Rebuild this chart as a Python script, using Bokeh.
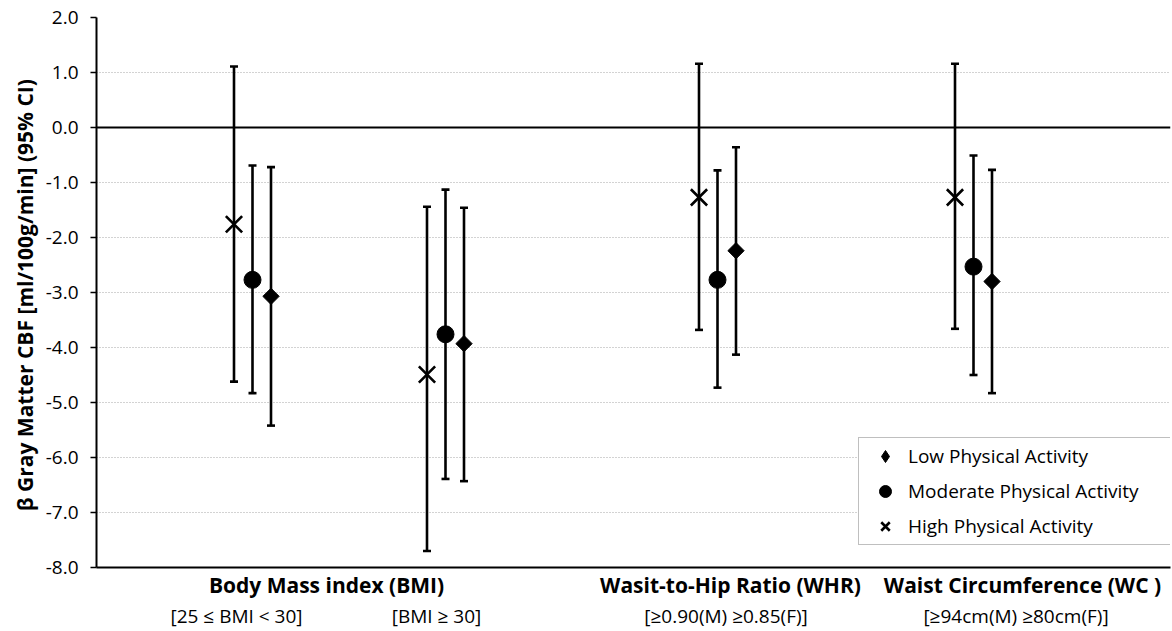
import math
from bokeh.plotting import figure
from bokeh.models import (ColumnDataSource, Range1d, FixedTicker, PrintfTickFormatter, Span,
                          Whisker, TeeHead, Legend, LegendItem, LinearAxis)
from bokeh.embed import file_html
from bokeh.resources import INLINE

# ---------------- data ----------------
categories = ["[25 ≤ BMI < 30]", "[BMI ≥ 30]", "[≥0.90(M)  ≥0.85(F)]", "[≥94cm(M)  ≥80cm(F)]"]
group_labels = ["Body Mass index (BMI)", "Wasit-to-Hip Ratio (WHR)", "Waist Circumference (WC )"]
series_names = ["Low Physical Activity", "Moderate Physical Activity", "High Physical Activity"]

low_beta = [-3.07, -3.93, -2.24, -2.80]
low_lo = [-5.42, -6.43, -4.13, -4.83]
low_hi = [-0.72, -1.46, -0.36, -0.77]

mod_beta = [-2.77, -3.76, -2.77, -2.53]
mod_lo = [-4.83, -6.39, -4.73, -4.50]
mod_hi = [-0.69, -1.13, -0.78, -0.51]

high_beta = [-1.76, -4.49, -1.27, -1.27]
high_lo = [-4.62, -7.70, -3.68, -3.66]
high_hi = [1.11, -1.44, 1.16, 1.16]

y_ticks = [-8, -7, -6, -5, -4, -3, -2, -1, 0, 1, 2]

# ---------------- layout (positions along the x axis, in px from the y axis) ----------------
cat_pos = [156, 349, 621, 877]
group_pos = [230, 634, 926]
sub_pos = [140, 340, 632, 922]
series_offset = {"Low Physical Activity": 18.5, "Moderate Physical Activity": 0.0,
                 "High Physical Activity": -18.5}

FONT = "Open Sans"

p = figure(width=1172, height=631, output_backend="svg", toolbar_location=None,
           x_range=Range1d(0, 1074), y_range=Range1d(-8, 2),
           min_border_left=96, min_border_right=2, min_border_top=17, min_border_bottom=64)
p.outline_line_color = None
p.background_fill_color = "white"

# y axis
p.yaxis.ticker = FixedTicker(ticks=y_ticks)
p.yaxis.formatter = PrintfTickFormatter(format="%.1f")
p.yaxis.axis_line_width = 2
p.yaxis.axis_line_color = "black"
p.yaxis.major_tick_out = 6
p.yaxis.major_tick_in = 0
p.yaxis.major_tick_line_width = 1.5
p.yaxis.major_tick_line_color = "black"
p.yaxis.minor_tick_out = 0
p.yaxis.minor_tick_in = 0
p.yaxis.major_label_standoff = 12
p.yaxis.major_label_text_font = FONT
p.yaxis.major_label_text_font_size = "19px"
p.yaxis.major_label_text_color = "black"
p.yaxis.axis_label = "β Gray Matter CBF [ml/100g/min]  (95% CI)"
p.yaxis.axis_label_text_font = FONT
p.yaxis.axis_label_text_font_style = "bold"
p.yaxis.axis_label_text_font_size = "21px"
p.yaxis.axis_label_text_color = "black"
p.yaxis.axis_label_standoff = 4

# x axis 1: the line at -8 and the bold group labels
xa = p.xaxis[0]
xa.ticker = FixedTicker(ticks=group_pos)
xa.major_label_overrides = {g: t for g, t in zip(group_pos, group_labels)}
xa.axis_line_width = 2
xa.axis_line_color = "black"
xa.major_tick_out = 0
xa.major_tick_in = 0
xa.minor_tick_out = 0
xa.minor_tick_in = 0
xa.major_label_standoff = 3
xa.major_label_text_font = FONT
xa.major_label_text_font_style = "bold"
xa.major_label_text_font_size = "21px"
xa.major_label_text_color = "black"

# x axis 2: the sub-category labels
xb = LinearAxis(ticker=FixedTicker(ticks=sub_pos),
                major_label_overrides={c: t for c, t in zip(sub_pos, categories)},
                axis_line_color=None, major_tick_out=0, major_tick_in=0,
                minor_tick_out=0, minor_tick_in=0, major_label_standoff=1,
                major_label_text_font=FONT, major_label_text_font_size="19px",
                major_label_text_color="black")
p.add_layout(xb, "below")

# grid
p.xgrid.visible = False
p.ygrid.ticker = FixedTicker(ticks=y_ticks)
p.ygrid.grid_line_color = "#a6a6a6"
p.ygrid.grid_line_dash = "1 2"
p.ygrid.grid_line_width = 1

p.add_layout(Span(location=0, dimension="width", line_color="black", line_width=2))

def src(beta, lo, hi, name):
    return ColumnDataSource(dict(
        x=[c + series_offset[name] for c in cat_pos], beta=beta, lo=lo, hi=hi))

s_low = src(low_beta, low_lo, low_hi, series_names[0])
s_mod = src(mod_beta, mod_lo, mod_hi, series_names[1])
s_high = src(high_beta, high_lo, high_hi, series_names[2])

for s in (s_high, s_mod, s_low):
    w = Whisker(source=s, base="x", lower="lo", upper="hi", dimension="height",
                line_color="black", line_width=2.6,
                upper_head=TeeHead(size=8, line_width=2.6, line_color="black"),
                lower_head=TeeHead(size=8, line_width=2.6, line_color="black"))
    p.add_layout(w)

r_high = p.scatter("x", "beta", source=s_high, marker="x", size=23, line_width=2.6,
                   line_color="black")
r_mod = p.scatter("x", "beta", source=s_mod, marker="circle", size=17,
                  fill_color="black", line_color="black")
r_low = p.scatter("x", "beta", source=s_low, marker="square", size=11.5, angle=math.pi / 4,
                  fill_color="black", line_color="black")

# legend proxy for the diamond (legend glyphs ignore marker rotation)
nan = float("nan")
r_low_key = p.scatter(x=[nan], y=[nan], marker="diamond", size=12,
                      fill_color="black", line_color="black")

legend = Legend(items=[LegendItem(label=series_names[0], renderers=[r_low_key]),
                       LegendItem(label=series_names[1], renderers=[r_mod]),
                       LegendItem(label=series_names[2], renderers=[r_high])],
                location=(762, 22), orientation="vertical",
                glyph_width=46, glyph_height=30, label_standoff=0, spacing=5,
                padding=3, margin=0, label_width=260,
                label_text_font=FONT, label_text_font_size="19px", label_text_color="black",
                border_line_color="#7f7f7f", border_line_width=1,
                background_fill_color="white", background_fill_alpha=1.0)
p.add_layout(legend)

open("out.html", "w").write(file_html(p, INLINE))
